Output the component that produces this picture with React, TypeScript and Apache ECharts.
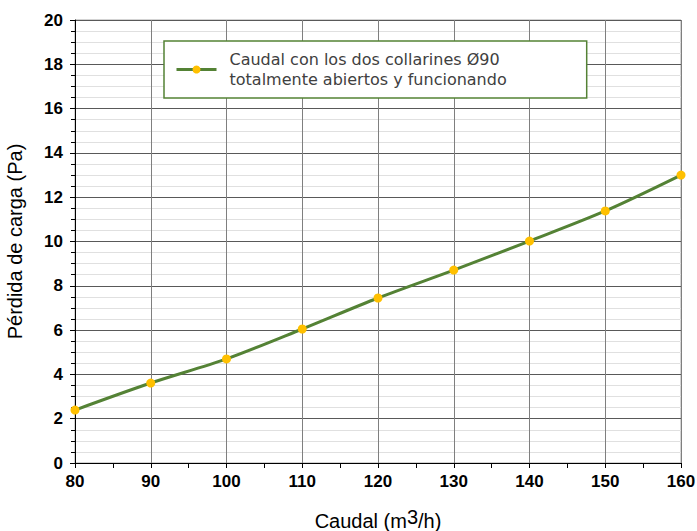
import React, { useEffect, useRef } from "react";
import * as echarts from "echarts";

const caudal = [80, 90, 100, 110, 120, 130, 140, 150, 160];
const perdida = [2.39, 3.61, 4.7, 6.05, 7.45, 8.71, 10.02, 11.38, 13.0];
const seriesName = "Caudal con los dos collarines Ø90\ntotalmente abiertos y funcionando";

const tickFont = "'Liberation Sans Narrow', 'Liberation Sans', sans-serif";

export default function App() {
  const ref = useRef<HTMLDivElement>(null);
  useEffect(() => {
    document.body.style.margin = "0";
    const chart = echarts.init(ref.current!, null, { renderer: "svg" });
    chart.setOption({
      animation: false,
      backgroundColor: "#ffffff",
      grid: {
        left: 75, right: 16, top: 20, bottom: 68, show: true, borderColor: "#a6a6a6", borderWidth: 1,
        outerBoundsMode: "none", containLabel: false,
      },
      legend: {
        show: true,
        left: 164,
        top: 41,
        orient: "vertical",
        backgroundColor: "#fff",
        borderColor: "#548235",
        borderWidth: 1.5,
        padding: [9, 80, 9, 11],
        itemWidth: 40,
        itemHeight: 10,
        itemGap: 0,
        lineStyle: { width: 3, color: "#548235" },
        textStyle: { fontFamily: "DejaVu Sans", fontSize: 16, color: "#404040", lineHeight: 19.5, padding: [0, 0, 0, 8] },
        data: [{ name: seriesName }],
      },
      xAxis: {
        type: "value",
        min: 80,
        max: 160,
        interval: 10,
        name: "{a|Caudal (m}{s|3}{a|/h)}",
        nameLocation: "middle",
        nameGap: 44,
        nameTextStyle: {
          rich: {
            a: { fontFamily: "Liberation Sans", fontSize: 20, color: "#000", verticalAlign: "bottom", lineHeight: 24 },
            s: { fontFamily: "Liberation Sans", fontSize: 20, color: "#000", verticalAlign: "top", padding: [0, 0, 10, 0], lineHeight: 24 },
          },
        },
        axisLine: { show: true, lineStyle: { color: "#000", width: 1 } },
        axisTick: { show: true, length: 5, lineStyle: { color: "#000" } },
        minorTick: { show: true, splitNumber: 2, length: 5, lineStyle: { color: "#000" } },
        axisLabel: { fontFamily: tickFont, fontWeight: "bold", fontSize: 17, color: "#000", margin: 10 },
        splitLine: { show: true, lineStyle: { color: "#7f7f7f", width: 1 } },
      },
      yAxis: {
        type: "value",
        min: 0,
        max: 20,
        interval: 2,
        name: "Pérdida de carga (Pa)",
        nameLocation: "middle",
        nameGap: 50,
        nameTextStyle: { fontFamily: "Liberation Sans", fontSize: 20, color: "#000" },
        axisLine: { show: true, lineStyle: { color: "#000", width: 1 } },
        axisTick: { show: true, length: 5, lineStyle: { color: "#000" } },
        minorTick: { show: true, splitNumber: 4, length: 4, lineStyle: { color: "#000" } },
        minorSplitLine: { show: true, lineStyle: { color: "#e0e0e0", width: 1 } },
        axisLabel: { fontFamily: tickFont, fontWeight: "bold", fontSize: 17, color: "#000", margin: 12 },
        splitLine: { show: true, lineStyle: { color: "#595959", width: 1 } },
      },
      series: [
        {
          name: seriesName,
          type: "line",
          smooth: 0.3,
          data: caudal.map((c, i) => [c, perdida[i]]),
          lineStyle: { color: "#548235", width: 3 },
          itemStyle: { color: "#FFC000" },
          symbol: "circle",
          symbolSize: 9,
          showSymbol: true,
        },
      ],
    });
    return () => chart.dispose();
  }, []);
  return <div ref={ref} style={{ width: 697, height: 531 }} />;
}
